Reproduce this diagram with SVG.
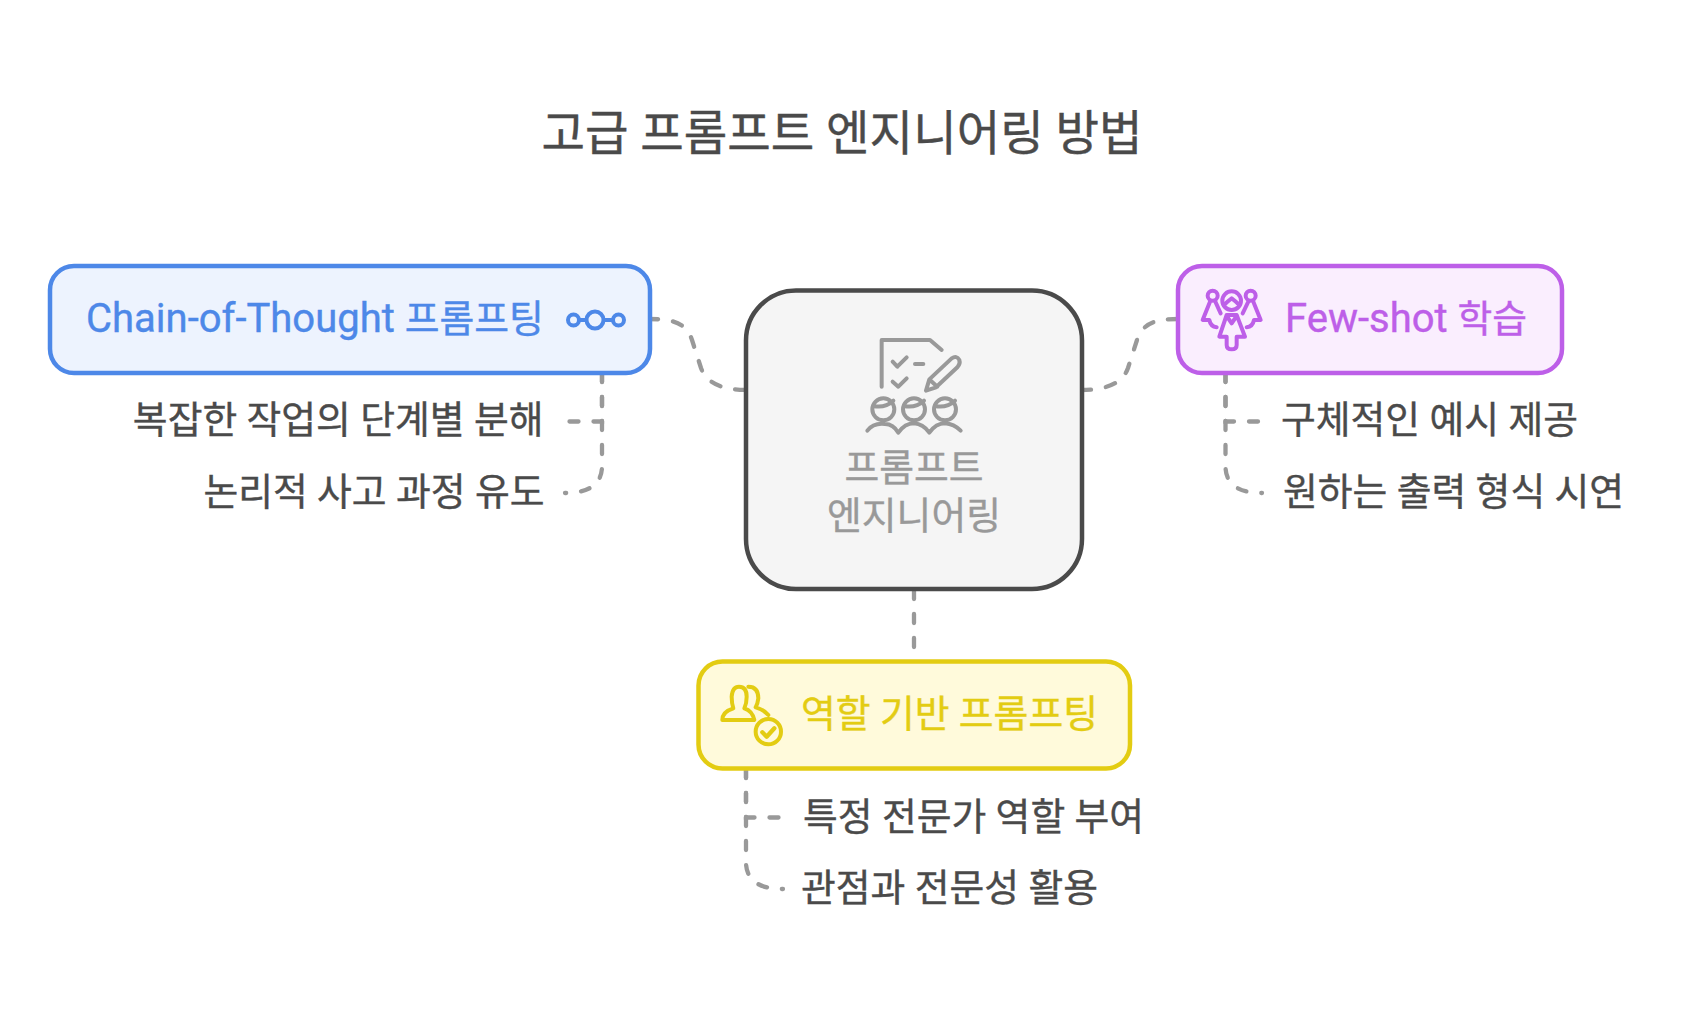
<svg xmlns="http://www.w3.org/2000/svg" width="1684" height="1012" viewBox="0 0 1684 1012">
<style>
text{font-family:"Roboto","Noto Sans CJK KR",sans-serif;font-size:37.800px;fill:#4a4a4a;stroke:#4a4a4a;stroke-width:.4px}
.title{font-size:47.300px}
.latin{font-size:40px}
.gray{fill:#999;stroke:#999}
.blue{fill:#4d88e8;stroke:#4d88e8}
.purple{fill:#bd5fe8;stroke:#bd5fe8}
.yellow{fill:#e3cc12;stroke:#e3cc12}
.box{stroke-width:4.500}
.conn{fill:none;stroke:#999;stroke-width:4.300;stroke-dasharray:9 15;stroke-linecap:round}
.curve{stroke-dasharray:10 15}
.ic{fill:none;stroke-width:12;stroke-linecap:round;stroke-linejoin:round}
</style>
<rect width="1684" height="1012" fill="#fff"/>
<text class="title" x="842" y="150" text-anchor="middle">고급 프롬프트 엔지니어링 방법</text>
<g id="connectors">
<path class="conn curve" d="M648 319C672 319 686 322 692 340L701 368C706 382 720 390 748 390"/>
<path class="conn curve" d="M1081 390C1109 390 1123 382 1128 368L1137 340C1143 322 1157 319 1179 319"/>
<path class="conn" d="M914 590V650"/>
<path class="conn" d="M602 373V421.500H567"/>
<path class="conn" d="M602 373V466Q602 493 565 493"/>
<path class="conn" d="M1225.500 373V421.500H1262"/>
<path class="conn" d="M1225.500 373V466Q1225.500 493 1262 493"/>
<path class="conn" d="M746 769V817.500H782"/>
<path class="conn" d="M746 769V862Q746 889 783 889"/>
</g>
<g id="node-center">
<rect class="box" x="746" y="290.500" width="336" height="298.500" rx="50" fill="#f5f5f5" stroke="#4a4a4a"/>
<g transform="translate(730 270) scale(.33333)" class="ic" stroke="#999">
<path d="M455 350V210H600L635 240"/>
<path d="M488 275L502 290L530 262M555 282H580M488 335L505 350L530 325"/>
<path d="M588 362L598 328L665 265Q680 255 688 270Q692 282 682 292L618 352ZM600 330L622 350"/>
<circle cx="460" cy="418" r="33"/><circle cx="552" cy="418" r="33"/><circle cx="645" cy="418" r="33"/>
<path d="M430 408Q465 415 490 392M522 408Q557 415 582 392M615 408Q650 415 675 392"/>
<path d="M412 482Q430 458 465 462Q490 462 505 488Q525 460 552 460Q580 462 598 488Q618 460 645 460Q672 462 692 482"/>
</g>
<text class="gray" x="914" y="481" text-anchor="middle">프롬프트</text>
<text class="gray" x="914" y="529" text-anchor="middle">엔지니어링</text>
</g>
<g id="node-chain">
<rect class="box" x="50" y="266" width="600" height="107" rx="24" fill="#edf3fe" stroke="#4d88e8"/>
<text class="blue" x="86" y="332"><tspan class="latin">Chain-of-Thought </tspan>프롬프팅</text>
<g fill="none" stroke="#4d88e8" stroke-width="4">
<circle cx="573.500" cy="320" r="5.500"/><circle cx="595" cy="320" r="8.500"/><circle cx="618.500" cy="320" r="5.500"/>
<path d="M579 320H586.500M603.500 320H613"/>
</g>
</g>
<text x="543.500" y="433" text-anchor="end">복잡한 작업의 단계별 분해</text>
<text x="544.500" y="505" text-anchor="end">논리적 사고 과정 유도</text>
<g id="node-fewshot">
<rect class="box" x="1178" y="266" width="384" height="107" rx="24" fill="#faeefe" stroke="#bd5fe8"/>
<g transform="translate(1200 280) scale(.33333)" class="ic" stroke="#bd5fe8">
<circle cx="95" cy="62" r="28"/><circle cx="38" cy="47" r="15"/><circle cx="152" cy="47" r="15"/>
<path d="M72 75Q85 62 95 55Q105 62 118 75"/>
<path d="M80 105L58 170H80V195Q80 208 95 208Q110 208 110 195V170H135L110 105ZM80 108L95 130L110 108"/>
<path d="M30 65L8 120H28Q32 140 50 142M46 65L62 100M145 65L128 100M160 65L182 120H162Q158 140 140 142"/>
</g>
<text class="purple" x="1285" y="332"><tspan class="latin">Few-shot </tspan>학습</text>
</g>
<text x="1281" y="433">구체적인 예시 제공</text>
<text x="1283" y="505">원하는 출력 형식 시연</text>
<g id="node-role">
<rect class="box" x="698.500" y="661.500" width="431.500" height="107" rx="24" fill="#fffadb" stroke="#e3cc12"/>
<g transform="translate(715 680) scale(.33333)" class="ic" stroke="#e3cc12">
<path d="M22 120Q22 95 55 85Q50 70 50 50Q52 20 72 20Q95 20 95 50Q95 70 88 85Q112 92 118 120Z"/>
<path d="M100 20Q130 20 130 55Q128 72 122 82Q145 88 160 105"/>
<circle cx="160" cy="155" r="38"/>
<path d="M142 157L155 170L178 145" stroke-width="13"/>
</g>
<text class="yellow" x="801" y="727">역할 기반 프롬프팅</text>
</g>
<text x="803" y="830">특정 전문가 역할 부여</text>
<text x="801" y="901">관점과 전문성 활용</text>
</svg>
